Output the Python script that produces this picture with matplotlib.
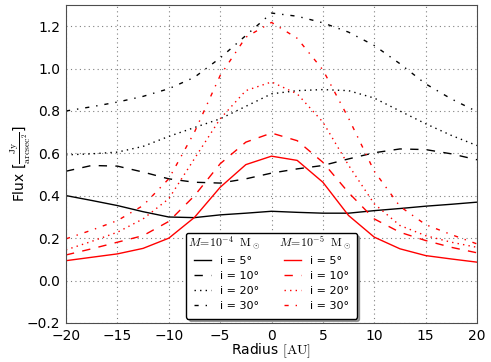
import numpy as np
import matplotlib
matplotlib.use("Agg")
import matplotlib.pyplot as plt
import matplotlib.text as mtext

# radius sampling (AU)
radius = [-20, -17.5, -15, -12.5, -10, -7.5, -5, -2.5, 0, 2.5, 5, 7.5, 10, 12.5, 15, 17.5, 20]

# M = 1e-4 Msun
m4_i5 = [0.401, 0.378, 0.354, 0.325, 0.300, 0.297, 0.310, 0.318, 0.327, 0.322, 0.318, 0.318, 0.330, 0.340, 0.351, 0.360, 0.370]
m4_i10 = [0.516, 0.543, 0.540, 0.512, 0.480, 0.464, 0.460, 0.480, 0.507, 0.527, 0.543, 0.574, 0.603, 0.621, 0.618, 0.598, 0.570]
m4_i20 = [0.593, 0.598, 0.606, 0.633, 0.680, 0.722, 0.763, 0.822, 0.881, 0.896, 0.901, 0.896, 0.861, 0.800, 0.740, 0.685, 0.637]
m4_i30 = [0.800, 0.820, 0.842, 0.869, 0.905, 0.959, 1.050, 1.156, 1.262, 1.247, 1.216, 1.172, 1.109, 1.023, 0.928, 0.857, 0.797]

# M = 1e-5 Msun
m5_i5 = [0.094, 0.110, 0.126, 0.152, 0.200, 0.298, 0.440, 0.547, 0.587, 0.567, 0.464, 0.307, 0.205, 0.150, 0.118, 0.102, 0.087]
m5_i10 = [0.121, 0.150, 0.181, 0.212, 0.279, 0.400, 0.551, 0.653, 0.696, 0.660, 0.558, 0.415, 0.291, 0.228, 0.189, 0.157, 0.131]
m5_i20 = [0.145, 0.185, 0.228, 0.291, 0.386, 0.575, 0.763, 0.896, 0.937, 0.881, 0.748, 0.544, 0.362, 0.260, 0.212, 0.181, 0.157]
m5_i30 = [0.197, 0.238, 0.283, 0.354, 0.480, 0.700, 0.967, 1.148, 1.218, 1.143, 0.994, 0.766, 0.516, 0.350, 0.264, 0.217, 0.173]

incl = [5, 10, 20, 30]
styles = ['-', '--', ':', '-.']

plt.rcParams['mathtext.fontset'] = 'cm'
plt.rcParams['lines.linewidth'] = 1.0
plt.rcParams['lines.dashed_pattern'] = [6, 6]
plt.rcParams['lines.dotted_pattern'] = [1, 3]
plt.rcParams['lines.dashdot_pattern'] = [3, 5, 1, 5]


class TitleHandler:
    # draws the column header text in place of a legend handle
    def legend_artist(self, legend, orig_handle, fontsize, handlebox):
        t = mtext.Text(-handlebox.xdescent - 4, handlebox.height / 2 - handlebox.ydescent + 1,
                       orig_handle, fontsize=fontsize + 0.5, ha='left', va='center')
        handlebox.add_artist(t)
        return t


fig = plt.figure(figsize=(4.91, 3.62), dpi=100)
ax = fig.add_axes([66 / 491, 39 / 362, 411 / 491, 318 / 362])

lines4 = []
for ys, ls in zip([m4_i5, m4_i10, m4_i20, m4_i30], styles):
    l, = ax.plot(radius, ys, color='k', ls=ls)
    lines4.append(l)
lines5 = []
for ys, ls in zip([m5_i5, m5_i10, m5_i20, m5_i30], styles):
    l, = ax.plot(radius, ys, color='r', ls=ls)
    lines5.append(l)

ax.set_xlim(-20, 20)
ax.set_ylim(-0.2, 1.3)
ax.set_xticks(np.arange(-20, 21, 5))
ax.set_yticks(np.arange(-0.2, 1.21, 0.2))
ax.grid(True, color='0.5', ls=':', lw=0.8)
for s in ax.spines.values():
    s.set_color('0.3')
ax.tick_params(labelsize=10, length=0, pad=4)

ax.set_xlabel(r'Radius $[\mathrm{AU}]$', fontsize=10)
ax.xaxis.set_label_coords(0.5, -0.058)
ax.set_ylabel(r'Flux [$\frac{\mathrm{Jy}}{\mathrm{arcsec}^2}$]', fontsize=10)
ax.yaxis.set_label_coords(-0.08, 0.5)

handles = [r'$M\!=\!10^{-4}\ \ \mathrm{M}_\odot$'] + lines4 + [r'$M\!=\!10^{-5}\ \ \mathrm{M}_\odot$'] + lines5
labels = [''] + ['i = %d°' % i for i in incl] + [''] + ['i = %d°' % i for i in incl]
lg = ax.legend(handles, labels, ncol=2, loc='lower center', fontsize=8,
               shadow=True, fancybox=True, framealpha=1, edgecolor='k',
               handler_map={str: TitleHandler()}, handlelength=1.5,
               handletextpad=0.8, labelspacing=0.45, borderpad=0.7,
               columnspacing=2.3, borderaxespad=0.4)

fig.savefig('out.png', dpi=100)
